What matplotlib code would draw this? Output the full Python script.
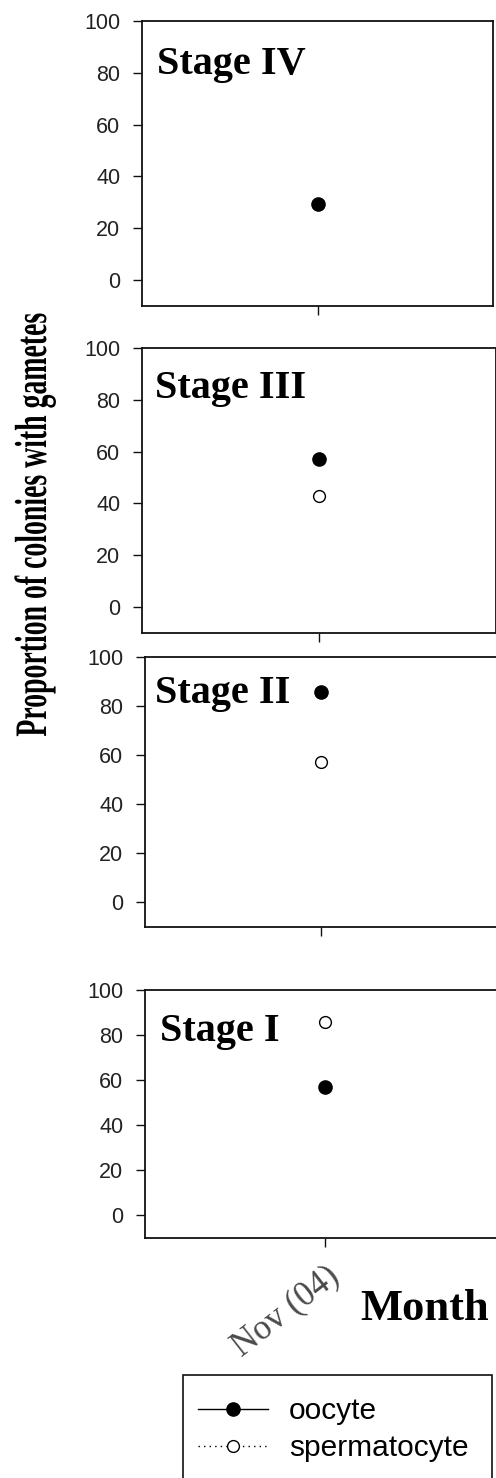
import matplotlib

matplotlib.use("Agg")

import matplotlib.patheffects as pe
import matplotlib.pyplot as plt
import numpy as np
from matplotlib.patches import Rectangle
from matplotlib.transforms import Affine2D

# -- data -------------------------------------------------------------------
MONTHS = ["Nov (04)"]
STAGES = ["Stage IV", "Stage III", "Stage II", "Stage I"]
# proportion of colonies (%) carrying each gamete type, one value per month
OOCYTE = [[29.5], [57.1], [85.7], [57.1]]
SPERMATOCYTE = [[np.nan], [42.9], [57.1], [85.7]]
Y_TICKS = [0, 20, 40, 60, 80, 100]

# -- layout (pixels on a 496 x 1478 canvas) ----------------------------------
W, H = 496, 1478
PANELS = [  # left, top, right, bottom
    (142, 21, 493, 306),
    (142, 348, 496, 633),
    (145, 657, 497, 927),
    (145, 990, 505, 1238),
]
STAGE_XY = [(157, 74), (155, 398), (155, 703), (160, 1041)]

SERIF = ["Liberation Serif", "DejaVu Serif"]
SANS = ["Liberation Sans", "DejaVu Sans"]
INK = "#111111"
SPARSE_DOTS = (0, (1, 3))


class Stretch(pe.AbstractPathEffect):
    """Scale glyphs away from the baseline, giving a tall condensed face."""

    def __init__(self, factor):
        super().__init__()
        self.factor = factor

    def draw_path(self, renderer, gc, tpath, affine, rgbFace=None):
        renderer.draw_path(gc, tpath, Affine2D().scale(1, self.factor) + affine, rgbFace)


def px(x, y):
    return x / W, 1 - y / H


fig = plt.figure(figsize=(W / 100, H / 100), dpi=100, facecolor="white")

handles = []
x = np.arange(len(MONTHS))
for i, (box, stage) in enumerate(zip(PANELS, STAGES)):
    left, top, right, bottom = box
    ax = fig.add_axes([left / W, 1 - bottom / H, (right - left) / W, (bottom - top) / H])
    ax.set_xlim(-1, 1)
    ax.set_ylim(-10, 100)

    (oo,) = ax.plot(x, OOCYTE[i], color="black", linestyle="-", linewidth=1.0,
                    marker="o", markersize=9.5, markerfacecolor="black",
                    markeredgecolor="black", zorder=3)
    (sp,) = ax.plot(x, SPERMATOCYTE[i], color="black", linestyle=SPARSE_DOTS, linewidth=1.0,
                    marker="o", markersize=8.5, markerfacecolor="white",
                    markeredgecolor="black", markeredgewidth=1.0, zorder=3)
    if not handles:
        handles = [oo, sp]

    for spine in ax.spines.values():
        spine.set_linewidth(1.3)
        spine.set_color(INK)
    ax.set_yticks(Y_TICKS)
    ax.set_xticks(x)
    ax.tick_params(direction="out", length=6.5, width=1.0, colors=INK,
                   labelsize=15.5, pad=9)
    for lab in ax.get_yticklabels():
        lab.set_family(SANS)
        lab.set_color("#222222")

    if i == len(PANELS) - 1:
        ax.set_xticklabels(MONTHS, rotation=38, ha="right", rotation_mode="anchor",
                           family=SERIF, fontsize=25, color="#4a4a4a")
    else:
        ax.set_xticklabels([])

    fig.text(*px(*STAGE_XY[i]), stage, family=SERIF, fontweight="bold",
             fontsize=29, va="baseline", ha="left", color="black")

# tall, narrow axis title running up the left edge
fig.text(*px(46, 525), "Proportion of colonies with gametes", rotation=90,
         rotation_mode="anchor", family=SERIF, fontweight="bold", fontsize=20,
         ha="center", va="baseline", path_effects=[Stretch(1.62)])
fig.text(*px(360, 1320), "Month", family=SERIF, fontweight="bold",
         fontsize=32, ha="left", va="baseline")

fig.legend(handles, ["oocyte", "spermatocyte"], loc="upper left",
           bbox_to_anchor=px(198, 1397), frameon=False,
           prop={"family": SANS, "size": 21.5}, handlelength=2.35,
           handletextpad=0.7, borderpad=0, labelspacing=0.3, borderaxespad=0)
# legend box runs off the bottom of the canvas
bx, by = px(183, 1375)
fig.add_artist(Rectangle((bx, -0.02), (492 - 183) / W, by + 0.02, transform=fig.transFigure,
                         fill=False, edgecolor=INK, linewidth=1.2))

fig.savefig("out.png", dpi=100, facecolor="white")
